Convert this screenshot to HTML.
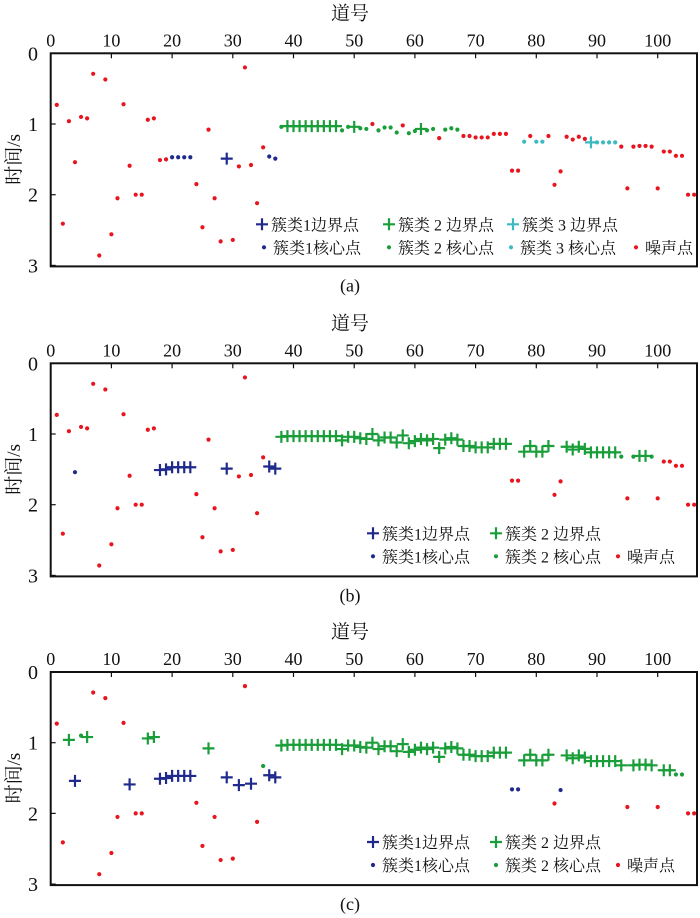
<!DOCTYPE html>
<html><head><meta charset="utf-8">
<style>
body{margin:0;background:#fff;}
svg{display:block;}
text{font-family:"Liberation Serif","Noto Serif CJK SC","Noto Sans CJK SC",serif;fill:#111;}
</style></head>
<body>
<svg id="fig" width="700" height="918" viewBox="0 0 700 918"></svg>
<script>
// trace numbers 1..107 and picked travel times (s)
const traces = Array.from({length:107},(_,i)=>i+1);
const times = [0.73,2.41,0.96,1.54,0.90,0.92,0.29,2.86,0.37,2.56,
2.05,0.72,1.59,2.00,2.00,0.94,0.92,1.51,1.50,1.47,
1.47,1.47,1.47,1.85,2.46,1.08,2.05,2.66,1.49,2.64,
1.60,0.20,1.58,2.12,1.33,1.46,1.49,1.04,1.03,1.03,
1.03,1.03,1.03,1.03,1.03,1.03,1.03,1.09,1.04,1.04,
1.06,1.07,1.00,1.09,1.05,1.05,1.12,1.02,1.13,1.10,
1.07,1.09,1.07,1.20,1.08,1.06,1.08,1.17,1.17,1.19,
1.19,1.19,1.14,1.14,1.14,1.66,1.66,1.25,1.17,1.25,
1.25,1.17,1.86,1.67,1.18,1.22,1.18,1.21,1.26,1.26,
1.26,1.26,1.26,1.32,1.91,1.32,1.31,1.31,1.32,1.91,
1.39,1.39,1.45,1.45,2.00,2.00,2.73];
// class labels per panel (N noise, B boundary, C core + cluster id)
const labelsA = ("N N N N N N N N N N "+
"N N N N N N N N N C1 "+
"C1 C1 C1 N N N N N B1 N "+
"N N N N N C1 C1 C2 B2 B2 "+
"B2 B2 B2 B2 B2 B2 B2 C2 C2 B2 "+
"C2 C2 N C2 C2 C2 C2 N C2 C2 "+
"B2 C2 C2 N C2 C2 C2 N N N "+
"N N N N N N N C3 N C3 "+
"C3 N N N N N N N B3 C3 "+
"C3 C3 C3 N N N N N N N "+
"N N N N N N N").split(" ");
const labelsB = ("N N N C1 N N N N N N "+
"N N N N N N N B1 B1 B1 "+
"B1 B1 B1 N N N N N B1 N "+
"N N N N N B1 B1 B2 B2 B2 "+
"B2 B2 B2 B2 B2 B2 B2 B2 B2 B2 "+
"B2 B2 B2 B2 B2 B2 B2 B2 B2 B2 "+
"B2 B2 B2 B2 B2 B2 B2 B2 B2 B2 "+
"B2 B2 B2 B2 B2 N N B2 B2 B2 "+
"B2 B2 N N B2 B2 B2 B2 B2 B2 "+
"B2 B2 B2 C2 N C2 B2 B2 C2 N "+
"N N N N N N N").split(" ");
const labelsC = ("N N B2 B1 C2 B2 N N N N "+
"N N B1 N N B2 B2 B1 B1 B1 "+
"B1 B1 B1 N N B2 N N B1 N "+
"B1 N B1 N C2 B1 B1 B2 B2 B2 "+
"B2 B2 B2 B2 B2 B2 B2 B2 B2 B2 "+
"B2 B2 B2 B2 B2 B2 B2 B2 B2 B2 "+
"B2 B2 B2 B2 B2 B2 B2 B2 B2 B2 "+
"B2 B2 B2 B2 B2 C1 C1 B2 B2 B2 "+
"B2 B2 N C1 B2 B2 B2 B2 B2 B2 "+
"B2 B2 B2 B2 N B2 B2 B2 B2 N "+
"B2 B2 C2 C2 N N N").split(" ");
const xTicks = [0,10,20,30,40,50,60,70,80,90,100];
const yTicks = [0,1,2,3];

const NS="http://www.w3.org/2000/svg";
const svg=document.getElementById('fig');
const COL={1:'#1f2a8c',2:'#1a9e3a',3:'#3cbac2',N:'#e8141e'};
const X0=50.7, XS=6.07, XR=697, YS=70.7;
function mk(tag,attrs,parent){const e=document.createElementNS(NS,tag);for(const k in attrs)e.setAttribute(k,attrs[k]);(parent||svg).appendChild(e);return e;}
function txt(s,x,y,size,anchor,parent){const t=mk('text',{x:x,y:y,'font-size':size,'text-anchor':anchor||'middle'},parent);t.textContent=s;return t;}

function plus(g,cx,cy,c){
  mk('path',{d:`M${cx-6} ${cy}H${cx+6}M${cx} ${cy-6}V${cy+6}`,stroke:c,'stroke-width':2.2,fill:'none'},g);
}
function dot(g,cx,cy,c){mk('circle',{cx:cx,cy:cy,r:2.1,fill:c},g);}

function panel(id,y0,labels,legend3,caption){
  const g=mk('g',{});
  
  
  const xs=v=>X0+v*XS, ys=v=>y0+v*YS;
  const bottom=ys(3)+1;
  const t=txt('道号',350,y0-34,19,'middle',g);
  
  
  const yt=txt('时间/s',0,0,19,'middle',g);
  yt.setAttribute('transform',`translate(20,${ys(1.5)}) rotate(-90)`);
  
  
  xTicks.forEach(v=>{
    const l=txt(String(v),xs(v),y0-7,18,'middle',g);
    
    
    mk('line',{x1:xs(v),x2:xs(v),y1:y0,y2:y0+5,stroke:'#111','stroke-width':1.2},g);
  });
  yTicks.forEach(v=>{
    const l=txt(String(v),38,ys(v)+7,20,'end',g);
    
    
    mk('line',{x1:X0,x2:X0+5,y1:ys(v),y2:ys(v),stroke:'#111','stroke-width':1.2},g);
  });
  const box=mk('rect',{x:X0,y:y0,width:XR-X0,height:bottom-y0,fill:'none',stroke:'#111','stroke-width':2},g);
  
  
  const mg=mk('g',{},g);
  
  
  traces.forEach((tr,i)=>{
    const lab=labels[i];const cx=xs(tr), cy=ys(times[i]);
    if(cx>XR+1)return;
    if(lab==='N') dot(mg,cx,cy,COL.N);
    else if(lab[0]==='C') dot(mg,cx,cy,COL[lab[1]]);
    else plus(mg,cx,cy,COL[lab[1]]);
  });
  const lg=mk('g',{},g);
  
  
  const r1=legend3?y0+171:y0+170, r2=r1+23;
  let items;
  if(legend3) items=[[262,r1,'B',1,'簇类1边界点'],[389,r1,'B',2,'簇类 2 边界点'],[513,r1,'B',3,'簇类 3 边界点'],
    [264,r2,'C',1,'簇类1核心点'],[389,r2,'C',2,'簇类 2 核心点'],[511,r2,'C',3,'簇类 3 核心点'],[636,r2,'C','N','噪声点']];
  else items=[[373,r1,'B',1,'簇类1边界点'],[496,r1,'B',2,'簇类 2 边界点'],
    [373,r2,'C',1,'簇类1核心点'],[496,r2,'C',2,'簇类 2 核心点'],[618,r2,'C','N','噪声点']];
  items.forEach(it=>{
    const e=mk('g',{},lg);
    
    
    if(it[2]==='B') plus(e,it[0],it[1],COL[it[3]]); else dot(e,it[0],it[1],COL[it[3]]);
    txt(it[4],it[0]+9,it[1]+6,16,'start',e);
  });
  const cp=txt(caption,350,bottom+25,18,'middle',g);
  
  
}
panel('a',53.3,labelsA,true,'(a)');
panel('b',363.3,labelsB,false,'(b)');
panel('c',672,labelsC,false,'(c)');
</script>
</body></html>
